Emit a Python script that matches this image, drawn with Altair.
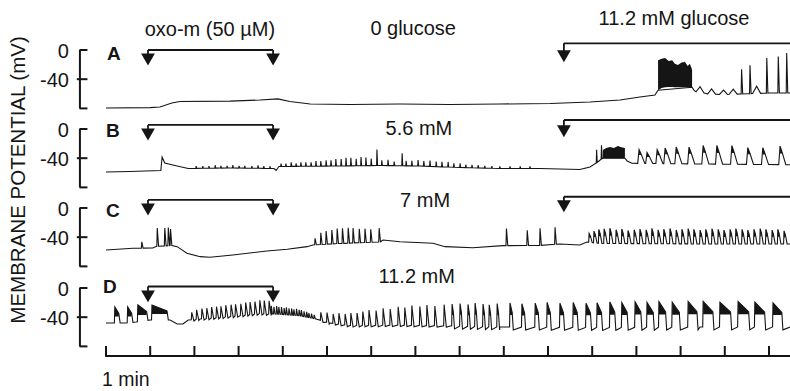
import altair as alt
import numpy as np
import pandas as pd

# ======================= values =======================
# time in minutes, membrane potential in mV
# ---- Panel A : 0 glucose, then 11.2 mM glucose
A_base_t = [0, 1.0, 1.22, 1.49, 1.67, 2.81, 3.48, 3.89, 4.16, 4.62, 5.52, 6.65, 7.78,
            8.91, 10.05, 10.95, 11.63, 12.08, 12.42, 12.49, 13.26, 13.3, 13.6, 14.0,
            14.5, 15.0, 15.48]
A_base_v = [-79.5, -79, -78, -72.6, -70.5, -70, -68.5, -67, -70.5, -74, -74.7, -74,
            -74.7, -74, -73.3, -71.2, -68.5, -64.4, -61.6, -55, -51, -55, -60, -61,
            -60, -59, -59]
A_burst_t = [12.49, 12.57, 12.65, 12.73, 12.81, 12.87, 12.94, 13.02, 13.1, 13.16, 13.21, 13.26]
A_burst_top = [-14, -12, -11, -15, -14, -19, -20.5, -17, -16.4, -22, -19, -27]
A_burst_bot = [-55, -52, -51, -50.7, -50.7, -51, -51, -51, -51, -51, -51, -51]
A_wave_t = [13.44, 13.7, 13.97, 14.19, 14.72]
A_wave_a = [7, 7, 6, 7, 10]
A_spk_t = [14.38, 14.57, 14.95, 15.21, 15.4]
A_spk_a = [34, 39, 48, 50, 55]

# ---- Panel B : 5.6 mM glucose
B_base_t = [0, 0.54, 1.24, 1.27, 1.33, 1.56, 1.86, 2.81, 3.8, 3.85, 3.91, 5.29, 6.2,
            7.1, 8.0, 8.91, 9.82, 10.27, 10.72, 10.95, 11.1, 11.18, 11.24, 11.74,
            11.79, 11.9, 13.5, 15.48]
B_base_v = [-59, -58.2, -56.8, -38.4, -46.6, -50, -54.1, -53.4, -54.1, -56.8, -51.4,
            -50.7, -50, -50.7, -52.7, -54.1, -54.1, -54.8, -55.5, -52, -46.6, -42.5,
            -40, -40, -43.8, -47, -48, -49]
B_spk_t = [2.04, 2.19, 2.33, 2.47, 2.6, 2.74, 2.87, 3.01, 3.14, 3.3, 3.44, 3.57, 3.71,
           3.96, 4.07, 4.19, 4.3, 4.41, 4.52, 4.64, 4.75, 4.86, 4.98, 5.09, 5.2, 5.32,
           5.43, 5.54, 5.66, 5.77, 5.88, 6.0, 6.13, 6.24, 6.38, 6.52, 6.7, 6.79, 6.92,
           7.06, 7.19, 7.33, 7.47, 7.6, 7.74, 7.87, 8.01, 8.14, 8.28, 8.42, 8.57, 8.73,
           8.91, 9.14, 9.37, 9.59, 11.1, 11.21]
B_spk_a = [3, 3, 3, 4, 3, 3, 4, 3, 3, 3, 4, 3, 3,
           4, 4, 5.5, 4, 5.5, 5.5, 5.5, 7, 7, 8, 8, 9.5, 9.5,
           11, 11, 9.5, 12, 11, 9.5, 22, 7, 8, 5.5, 17, 7, 7,
           8, 7, 8, 7, 7, 7, 5.5, 5.5, 4, 4, 4, 3, 3,
           3, 3, 3, 3, 18, 19]
B_burst_t = [11.24, 11.32, 11.4, 11.49, 11.58, 11.66, 11.74]
B_burst_top = [-28.8, -26, -24.7, -26, -23.3, -25, -26]
B_burst_bot = [-40, -40, -40, -40, -40, -40, -40]
B_wave_t = [12.06, 12.24, 12.47, 12.65, 12.9, 13.19, 13.51, 13.82, 14.16, 14.52, 14.86, 15.25]
B_wave_a = [19, 15, 19, 21.5, 23, 23, 25.5, 25.5, 25.5, 23, 23, 25.5]

# ---- Panel C : 7 mM glucose
C_base_t = [0, 0.61, 1.06, 1.13, 1.49, 1.61, 1.83, 2.13, 2.35, 2.87, 3.64, 4.1, 4.55,
            4.68, 5.29, 6.2, 6.27, 6.65, 7.4, 7.67, 8.3, 8.98, 9.82, 10.27, 10.72,
            10.88, 11.18, 13.44, 15.48]
C_base_v = [-57.5, -55.2, -54.8, -52.7, -51.4, -53, -62, -66.7, -67.5, -64.4, -58.9,
            -56.6, -53, -50.7, -48.6, -46.6, -43.8, -46.2, -48.4, -53, -54.4, -51.6,
            -51.4, -49.3, -50.7, -46.6, -48.6, -49.3, -49.3]
C_spk_t = [0.81, 1.16, 1.33, 1.41, 1.46, 4.73, 4.86, 4.98, 5.11, 5.23, 5.35, 5.48, 5.59,
           5.73, 5.86, 5.99, 6.18, 9.06, 9.53, 9.82, 10.16]
C_spk_a = [8.7, 25, 24.6, 25, 22.6, 9, 16, 18, 19, 20.5, 20.5, 21, 20.5, 19, 19, 18, 19,
           23.5, 21, 23.5, 23.5]
C_train_t = [10.93, 11.04, 11.15, 11.27, 11.4, 11.54, 11.67, 11.81, 11.95, 12.08, 12.22,
             12.35, 12.49, 12.62, 12.76, 12.9, 13.03, 13.17, 13.3, 13.44, 13.57, 13.71,
             13.85, 13.98, 14.12, 14.25, 14.39, 14.52, 14.66, 14.8, 14.93, 15.07, 15.2,
             15.34]
C_train_a = [12, 16, 19, 20, 21, 19, 20, 18, 19, 20, 19, 21, 19, 20, 21, 19, 20, 21, 20,
             19, 20, 21, 20, 19, 20, 21, 20, 19, 20, 21, 20, 19, 20, 18]

# ---- Panel D : 11.2 mM glucose
D_base_t = [0, 0.16, 0.45, 0.68, 1.0, 1.45, 1.61, 1.74, 1.86, 2.13, 2.81, 3.48, 3.94,
            4.39, 4.73, 5.07, 5.52, 6.65, 7.78, 8.91, 11.18, 13.44, 15.48]
D_base_v = [-48, -48, -48, -46.6, -43.8, -43.8, -49.3, -49.3, -43.8, -42.5, -39, -35,
            -36, -38, -42, -48, -51.4, -50.7, -52, -53.4, -54.1, -53.4, -53.4]
D_blk_t = [0.2, 0.49, 0.72, 1.04]
D_blk_a = [22, 22, 23, 20.5]
D_blk_w = [0.09, 0.09, 0.2, 0.34]
D_spk_t = [1.94, 2.05, 2.17, 2.28, 2.39, 2.5, 2.6, 2.71, 2.83, 2.93, 3.05, 3.16, 3.26,
           3.37, 3.48, 3.58, 3.69,
           4.86, 5.0, 5.14, 5.27, 5.41, 5.54, 5.68, 5.81, 5.95, 6.11, 6.27, 6.43, 6.61,
           6.76, 6.92, 7.1, 7.26, 7.44, 7.65]
D_spk_a = [10, 13, 14, 14, 15, 15, 15, 16, 16, 16, 16, 17, 17, 17, 18, 18, 18,
           11, 13, 13, 15, 15, 17, 17, 19, 21, 20, 23, 22, 25, 24, 27, 26, 28, 27, 29]
D_fast_t = [3.74, 3.8, 3.86, 3.91, 3.97, 4.03, 4.08, 4.14, 4.2, 4.25, 4.31, 4.37, 4.42,
            4.48, 4.54, 4.59, 4.65, 4.71]
D_fast_a = [11, 10, 11, 10, 10, 9, 10, 9, 9, 8, 9, 8, 8, 7, 7, 6, 6, 5]
D_brst_t = [7.83, 8.01, 8.19, 8.35, 8.53, 8.67, 8.85, 9.14, 9.41, 9.71, 9.98, 10.27,
            10.57, 10.86, 11.11, 11.4, 11.67, 11.97, 12.24, 12.51, 12.81, 13.17, 13.51,
            13.89, 14.3, 14.68, 15.09]
D_brst_a = [30, 31, 30, 32, 31, 30, 32, 33, 32, 33, 34, 33, 34, 33, 34, 35, 34, 35, 34,
            35, 34, 35, 35, 34, 35, 34, 33]
D_brst_w = [0.03, 0.03, 0.03, 0.03, 0.03, 0.03, 0.03, 0.05, 0.06, 0.07, 0.07, 0.08,
            0.09, 0.1, 0.1, 0.11, 0.12, 0.13, 0.14, 0.15, 0.16, 0.2, 0.22, 0.24, 0.24,
            0.22, 0.2]

# ---- annotations
OXO_T = [0.95, 3.78]          # oxo-m application (arrows)
GLU_T = 10.36                 # switch to 11.2 mM glucose
TIME_TICKS = list(range(0, 16))
PANELS = ["A", "B", "C", "D"]
PANEL_TEXT = ["0 glucose", "5.6 mM", "7 mM", "11.2 mM"]
SCALE_VALUES = [0, -40]

# ============================== layout =====================================
W, H = 790, 391
PX_MIN, PX_MV = 44.2, 0.73
X_ORIGIN, Y_ORIGIN = 106, 50
X_DOMAIN = [-X_ORIGIN / PX_MIN, (W - X_ORIGIN) / PX_MIN]
Y_DOMAIN = [-(H - Y_ORIGIN) / PX_MV, Y_ORIGIN / PX_MV]
OFF = {"A": 0.0, "B": -108.2, "C": -216.4, "D": -326.0}
T_END = X_DOMAIN[1]
INK = "#151515"
FONT = "Liberation Sans"


def trace(base_t, base_v, groups):
    ev, windows, fills = [], [], []
    for g in groups:
        ws = g.get("w")
        for k, (t, a) in enumerate(zip(g["t"], g["a"])):
            w = ws[k] if ws is not None else 0.0
            b0 = float(np.interp(t, base_t, base_v))
            t_end = t + w + g["fall"]
            b1 = float(np.interp(t_end, base_t, base_v))
            pk = b0 + a
            ev += [(t - g["rise"], b0), (t, pk)]
            if w > 0:
                pk2 = b0 + a * (1 - g["drop"])
                ev.append((t + w, pk2))
                fl = b0 + a * g["fill"]
                fills.append([(t, pk, fl), (t + w, pk2, fl)])
            ev.append((t_end, b1 - g.get("under", 0)))
            windows.append((t - g["rise"], t_end))
    pts = [(bt, bv) for bt, bv in zip(base_t, base_v)
           if not any(lo <= bt <= hi for lo, hi in windows)]
    pts = sorted(pts + ev, key=lambda p: p[0])
    return pts, fills


spec = {
    "A": (A_base_t, A_base_v, [
        dict(t=A_wave_t, a=A_wave_a, rise=0.09, fall=0.09),
        dict(t=A_spk_t, a=A_spk_a, rise=0.01, fall=0.025)],
        [(A_burst_t, A_burst_top, A_burst_bot)]),
    "B": (B_base_t, B_base_v, [
        dict(t=B_spk_t, a=B_spk_a, rise=0.008, fall=0.014),
        dict(t=B_wave_t, a=B_wave_a, w=[0.05] * len(B_wave_t), rise=0.03, fall=0.08,
             drop=0.35, fill=0.6)],
        [(B_burst_t, B_burst_top, B_burst_bot)]),
    "C": (C_base_t, C_base_v, [
        dict(t=C_spk_t, a=C_spk_a, rise=0.01, fall=0.03),
        dict(t=C_train_t, a=C_train_a, w=[0.03] * len(C_train_t), rise=0.01, fall=0.04,
             drop=0.3, fill=0.5)],
        []),
    "D": (D_base_t, D_base_v, [
        dict(t=D_blk_t, a=D_blk_a, w=D_blk_w, rise=0.01, fall=0.03, drop=0.4, fill=0.4),
        dict(t=D_spk_t, a=D_spk_a, rise=0.01, fall=0.05, under=2),
        dict(t=D_fast_t, a=D_fast_a, rise=0.01, fall=0.025),
        dict(t=D_brst_t, a=D_brst_a, w=D_brst_w, rise=0.01, fall=0.025, drop=0.4,
             fill=0.5, under=4)],
        []),
}

line_rows, fill_rows = [], []
gid = 0
for p in PANELS:
    bt, bv, groups, bursts = spec[p]
    pts, fills = trace(bt, bv, groups)
    for i, (t, v) in enumerate(pts):
        line_rows.append(dict(panel=p, i=i, t=t, y=v + OFF[p]))
    for f in fills:
        gid += 1
        for t, top, bot in f:
            fill_rows.append(dict(g=gid, t=t, top=top + OFF[p], bot=bot + OFF[p]))
    for bt_, btop, bbot in bursts:
        gid += 1
        for t, top, bot in zip(bt_, btop, bbot):
            fill_rows.append(dict(g=gid, t=t, top=top + OFF[p], bot=bot + OFF[p]))

lines_df = pd.DataFrame(line_rows)
fills_df = pd.DataFrame(fill_rows)

xs = alt.Scale(domain=X_DOMAIN, nice=False, zero=False)
ys = alt.Scale(domain=Y_DOMAIN, nice=False, zero=False)

traces = alt.Chart(lines_df).mark_line(color=INK, strokeWidth=1.1, strokeJoin="miter").encode(
    x=alt.X("t:Q", scale=xs, axis=None),
    y=alt.Y("y:Q", scale=ys, axis=None),
    detail="panel:N",
    order="i:Q",
)
fill_layer = alt.Chart(fills_df).mark_area(color=INK, opacity=1, interpolate="linear").encode(
    x=alt.X("t:Q", scale=xs, axis=None),
    y=alt.Y("top:Q", scale=ys, axis=None, stack=None),
    y2="bot:Q",
    detail="g:N",
)

# ---- rules (scale brackets, arrows, time axis)
rules, heads = [], []
oxo_pos = {"A": (0, -20.5), "B": (5.5, -15), "C": (11, -9.6), "D": (2, -19)}
glu_pos = {"A": (9.2, -16), "B": (12.3, -10.6), "C": (15.4, -5.1)}
HEAD = 7.5  # mV between arrowhead centre and tip
for p in PANELS:
    o = OFF[p]
    # scale bracket
    rules.append(dict(x=-0.59, x2=-0.59, y=o, y2=o - 80, sw=2))
    rules.append(dict(x=-0.6, x2=-0.42, y=o, y2=o, sw=2))
    rules.append(dict(x=-0.66, x2=-0.42, y=o - 40, y2=o - 40, sw=2))
    rules.append(dict(x=-0.6, x2=-0.42, y=o - 80, y2=o - 80, sw=2))
    # oxo-m bracket
    ly, tip = oxo_pos[p]
    rules.append(dict(x=OXO_T[0], x2=OXO_T[1], y=o + ly, y2=o + ly, sw=1.8))
    for ta in OXO_T:
        rules.append(dict(x=ta, x2=ta, y=o + ly, y2=o + tip + HEAD, sw=1.8))
        heads.append(dict(t=ta, y=o + tip + HEAD))
    if p in glu_pos:
        ly, tip = glu_pos[p]
        rules.append(dict(x=GLU_T, x2=T_END, y=o + ly, y2=o + ly, sw=1.8))
        rules.append(dict(x=GLU_T, x2=GLU_T, y=o + ly, y2=o + tip + HEAD, sw=1.8))
        heads.append(dict(t=GLU_T, y=o + tip + HEAD))

AX_Y = -(356 - Y_ORIGIN) / PX_MV
TICK_Y = -(346 - Y_ORIGIN) / PX_MV
rules.append(dict(x=-0.02, x2=T_END, y=AX_Y, y2=AX_Y, sw=2))
for tt in TIME_TICKS:
    rules.append(dict(x=tt, x2=tt, y=AX_Y, y2=TICK_Y, sw=2))

rule_layer = alt.Chart(pd.DataFrame(rules)).mark_rule(color=INK).encode(
    x=alt.X("x:Q", scale=xs, axis=None), x2="x2:Q",
    y=alt.Y("y:Q", scale=ys, axis=None), y2="y2:Q",
    strokeWidth=alt.StrokeWidth("sw:Q", scale=None),
)
head_layer = alt.Chart(pd.DataFrame(heads)).mark_point(
    shape="triangle-down", filled=True, size=190, color=INK, opacity=1).encode(
    x=alt.X("t:Q", scale=xs, axis=None), y=alt.Y("y:Q", scale=ys, axis=None))

# ---- text
def tx(df, **kw):
    return alt.Chart(pd.DataFrame(df)).mark_text(font=FONT, color=INK, **kw).encode(
        x=alt.X("t:Q", scale=xs, axis=None), y=alt.Y("y:Q", scale=ys, axis=None),
        text="s:N")

main_text = tx([
    dict(t=2.35, y=19.5, s="oxo-m (50 µM)"),
    dict(t=6.95, y=20.5, s=PANEL_TEXT[0]),
    dict(t=12.85, y=34.2, s="11.2  mM  glucose"),
    dict(t=7.08, y=-116.4, s=PANEL_TEXT[1]),
    dict(t=7.22, y=-214.7, s=PANEL_TEXT[2]),
    dict(t=7.03, y=-319.2, s=PANEL_TEXT[3]),
], fontSize=20, align="center", baseline="alphabetic")

letter_text = tx([
    dict(t=0.02, y=-13.7, s="A"), dict(t=0.0, y=-119.2, s="B"),
    dict(t=0.0, y=-228.8, s="C"), dict(t=-0.07, y=-332.9, s="D"),
], fontSize=19, fontWeight="bold", align="left", baseline="alphabetic")

scale_text = tx([dict(t=-0.84, y=OFF[p] + v, s=str(v)) for p in PANELS for v in SCALE_VALUES],
                fontSize=20, align="right", baseline="middle", dy=2)

ytitle = tx([dict(t=-1.968, y=-178, s="MEMBRANE POTENTIAL (mV)")],
            fontSize=20.5, align="center", baseline="middle", angle=270)
min_text = tx([dict(t=-0.09, y=-(386 - Y_ORIGIN) / PX_MV, s="1 min")],
              fontSize=19.5, align="left", baseline="alphabetic")

chart = alt.layer(
    fill_layer, traces, rule_layer, head_layer,
    main_text, letter_text, scale_text, ytitle, min_text,
).properties(
    width=W, height=H, padding=0,
    autosize=alt.AutoSizeParams(type="none"),
    background="white",
).configure_view(stroke=None)

chart.save("out.html", embed_options={"renderer": "svg", "actions": False})
